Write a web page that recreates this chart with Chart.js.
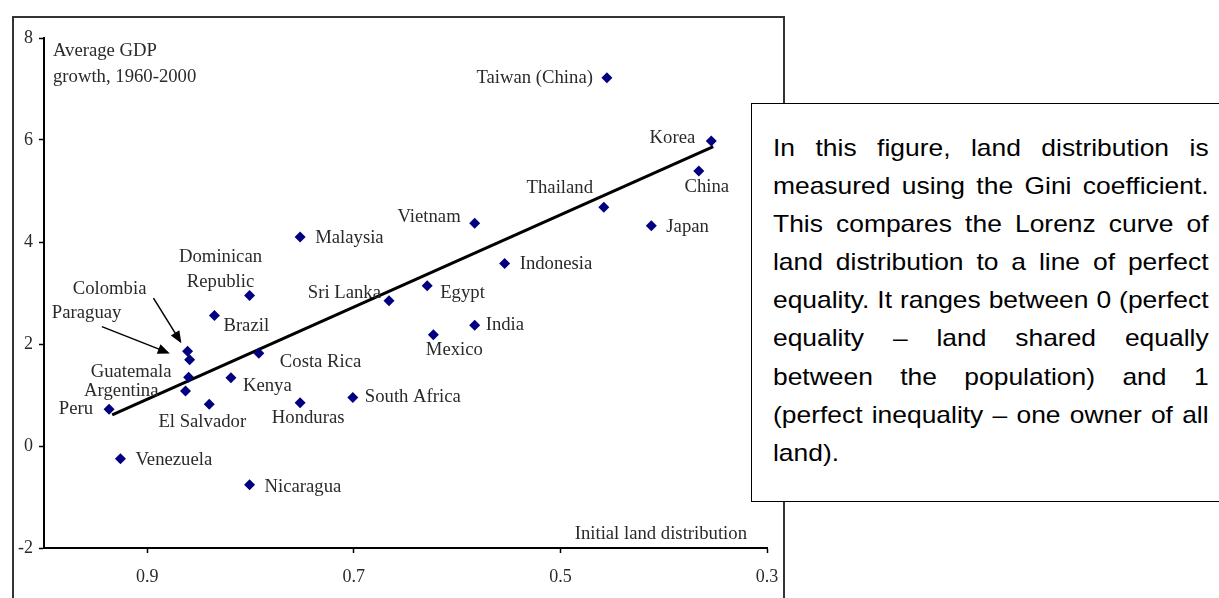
<!DOCTYPE html>
<html>
<head>
<meta charset="utf-8">
<script src="https://cdn.jsdelivr.net/npm/chart.js@4/dist/chart.umd.min.js"></script>
<style>
body { margin:0; background:#fff; width:1219px; height:598px; overflow:hidden; position:relative; }
.frame { position:absolute; left:12px; top:16px; width:769px; height:700px; border:2px solid #333; }
#chart { position:absolute; left:0; top:0; }
.note { position:absolute; left:751px; top:103px; width:500px; height:397px; border:1.5px solid #000; background:#fff; }
.note .txt { position:absolute; left:21px; top:25px; width:396px; transform:scaleX(1.1); transform-origin:left top;
  font-family:'Liberation Sans', Arial, sans-serif; font-size:24px; color:#000; }
.note .txt div { height:38.1px; line-height:38.1px; text-align:justify; text-align-last:justify; white-space:nowrap; }
.note .txt div.last { text-align-last:left; }
</style>
</head>
<body>
<div class="frame"></div>
<canvas id="chart" width="800" height="598"></canvas>
<div class="note"><div class="txt" id="txt"></div></div>
<script>
// data
const countries = ['Peru','Venezuela','Argentina','Guatemala','Colombia','Paraguay','El Salvador','Kenya','Brazil','Dominican|Republic','Costa Rica','Nicaragua','Honduras','South Africa','Malaysia','Sri Lanka','Egypt','Mexico','India','Vietnam','Indonesia','Thailand','Japan','China','Korea','Taiwan (China)']
const landGini = [0.937,0.926,0.863,0.860,0.861,0.859,0.840,0.819,0.835,0.801,0.792,0.801,0.752,0.701,0.752,0.666,0.629,0.623,0.583,0.583,0.554,0.458,0.412,0.366,0.354,0.455]
const gdpGrowth = [0.72,-0.25,1.08,1.35,1.86,1.69,0.82,1.34,2.56,2.95,1.82,-0.76,0.85,0.95,4.10,2.85,3.14,2.18,2.37,4.37,3.58,4.68,4.32,5.39,5.98,7.22]
const fitX = [0.934, 0.352]
const fitY = [0.61, 5.87]
const colombiaArrowX = [0.894, 0.868]
const colombiaArrowY = [2.90, 2.05]
const paraguayArrowX = [0.944, 0.880]
const paraguayArrowY = [2.34, 1.83]
const xTicks = [0.9, 0.7, 0.5, 0.3]
const yTicks = [-2, 0, 2, 4, 6, 8]
const yTitle = ['Average GDP', 'growth, 1960-2000']
const xTitle = 'Initial land distribution'
const noteLines = [
	'In this figure, land distribution is',
	'measured using the Gini coefficient.',
	'This compares the Lorenz curve of',
	'land distribution to a line of perfect',
	'equality. It ranges between 0 (perfect',
	'equality \u2013 land shared equally',
	'between the population) and 1',
	'(perfect inequality \u2013 one owner of all',
	'land).',
]

// label placement next to each point: [dx, dy, align]
const labelPos = [
	[-16,0,'right'], [15,1,'left'], [-27,0,'right'], [-17,-5,'right'], [-78,-62,'center'], [-103,-47,'center'],
	[-7,18,'center'], [12,8,'left'], [9,11,'left'], [-29,-38,'center'], [21,9,'left'], [15,2,'left'],
	[8,15,'center'], [12,0,'left'], [15,1,'left'], [-8,-8,'right'], [13,7,'left'], [21,15,'center'],
	[11,0,'left'], [-14,-6,'right'], [15,1,'left'], [-44,-19,'center'], [15,1,'left'], [8,16,'center'],
	[-16,-3,'right'], [-14,0,'right'],
]

const serif = "'Liberation Serif', 'Times New Roman', serif"
const ink = '#2a2a2a'

;(a => {
	noteLines.forEach((t, i) => {
		const d = document.createElement('div')
		d.textContent = t
		if (i == noteLines.length - 1) d.className = 'last'
		a.appendChild(d)
	})
})(document.getElementById('txt'))

const pts = (xs, ys) => xs.map((x, i) => ({x, y: ys[i]}))

const labels = {
	id: 'labels',
	afterDatasetsDraw: c => {
		const g = c.ctx
		const meta = c.getDatasetMeta(0)
		g.save()
		g.fillStyle = ink
		g.font = '18.7px ' + serif
		g.textBaseline = 'middle'
		meta.data.forEach((p, i) => {
			const [dx, dy, al] = labelPos[i]
			g.textAlign = al
			countries[i].split('|').forEach((t, k) => g.fillText(t, p.x + dx, p.y + dy + k * 25))
		})
		// arrow heads
		g.fillStyle = '#000'
		;[2, 3].forEach(n => {
			const d = c.getDatasetMeta(n).data
			const a = d[0], b = d[d.length - 1]
			const ang = Math.atan2(b.y - a.y, b.x - a.x)
			g.save()
			g.translate(b.x, b.y)
			g.rotate(ang)
			g.beginPath()
			g.moveTo(2, 0)
			g.lineTo(-10, -5)
			g.lineTo(-10, 5)
			g.closePath()
			g.fill()
			g.restore()
		})
		// axis titles
		const ca = c.chartArea
		g.fillStyle = ink
		g.textAlign = 'left'
		yTitle.forEach((t, k) => g.fillText(t, ca.left + 9, ca.top + 13 + k * 26))
		g.textAlign = 'right'
		g.fillText(xTitle, ca.right - 20, ca.bottom - 14)
		g.restore()
	}
}

new Chart(document.getElementById('chart'), {
	type: 'scatter',
	data: {
		datasets: [{
			data: pts(landGini, gdpGrowth),
			pointStyle: 'rectRot',
			radius: 5.5,
			backgroundColor: '#000080',
			borderColor: '#000080',
			borderWidth: 0,
			order: 0,
		}, {
			type: 'line',
			data: pts(fitX, fitY),
			showLine: true,
			borderColor: '#000',
			borderWidth: 3,
			pointRadius: 0,
			order: 1,
		}, {
			type: 'line',
			data: pts(colombiaArrowX, colombiaArrowY),
			showLine: true,
			borderColor: '#000',
			borderWidth: 1.5,
			pointRadius: 0,
			order: 2,
		}, {
			type: 'line',
			data: pts(paraguayArrowX, paraguayArrowY),
			showLine: true,
			borderColor: '#000',
			borderWidth: 1.5,
			pointRadius: 0,
			order: 2,
		}]
	},
	options: {
		responsive: false,
		animation: false,
		layout: { padding: { top: 38, right: 33, left: 0, bottom: 0 } },
		plugins: {
			legend: { display: false },
			tooltip: { enabled: false },
		},
		scales: {
			x: {
				type: 'linear',
				reverse: true,
				min: 0.3,
				max: 1.0,
				afterBuildTicks: s => { s.ticks = xTicks.map(v => ({value: v})) },
				afterFit: s => { s.height = 50 },
				grid: { drawOnChartArea: false, tickLength: 5, tickColor: '#000', tickWidth: 1.5 },
				border: { color: '#000', width: 2 },
				ticks: { color: ink, font: { family: serif, size: 18 }, padding: 13, maxRotation: 0, callback: v => v.toFixed(1) },
			},
			y: {
				min: -2,
				max: 8,
				afterBuildTicks: s => { s.ticks = yTicks.map(v => ({value: v})) },
				afterFit: s => { s.width = 44 },
				grid: { drawOnChartArea: false, tickLength: 5, tickColor: '#000', tickWidth: 1.5 },
				border: { color: '#000', width: 2 },
				ticks: { color: ink, font: { family: serif, size: 18 }, padding: 6, callback: v => String(v) },
			}
		}
	},
	plugins: [labels]
});
</script>
</body>
</html>
